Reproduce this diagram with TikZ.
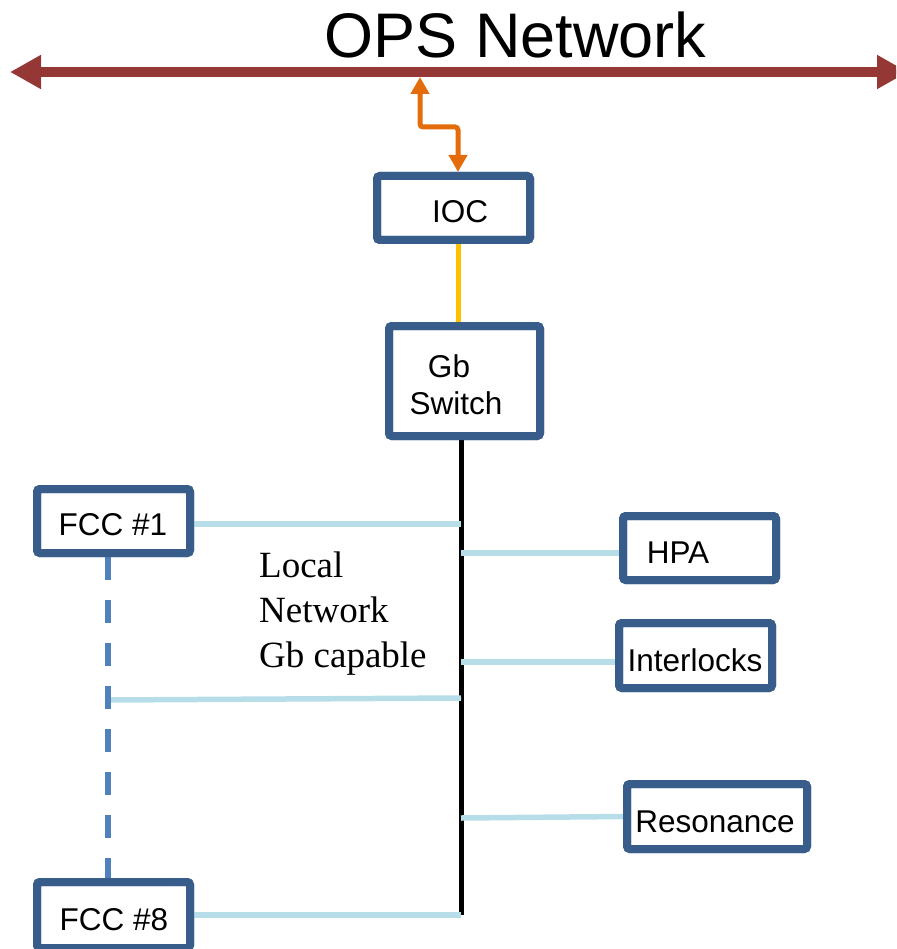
\documentclass[tikz,border=0pt]{standalone}
\usepackage{fontspec}
\setmainfont{Liberation Serif}
\setsansfont{Liberation Sans}
\usetikzlibrary{arrows.meta}

\definecolor{opsred}{HTML}{953735}
\definecolor{linkorange}{HTML}{E46C0A}
\definecolor{uplinkyellow}{HTML}{FFC000}
\definecolor{boxblue}{HTML}{385D8A}
\definecolor{lanblue}{HTML}{B7DDE8}
\definecolor{chainblue}{HTML}{4F81BD}

\begin{document}
\begin{tikzpicture}[x=1pt,y=-1pt,
  unit/.style={draw=boxblue, line width=8pt, rounded corners=3pt, fill=white,
               inner sep=0pt},
  tag/.style={font=\sffamily\fontsize{31.5}{37}\selectfont, inner sep=0pt},
  lan/.style={draw=lanblue, line width=5.5pt},
  busline/.style={draw=black, line width=5pt},
  opsbus/.style={draw=opsred, line width=10pt,
                 >={Triangle[length=31pt,width=32pt]}, <->},
  opslink/.style={draw=linkorange, line width=5pt, rounded corners=3pt,
                  >={Triangle[length=17pt,width=18pt]}, <->},
  uplink/.style={draw=uplinkyellow, line width=5pt},
  chain/.style={draw=chainblue, line width=6pt, dash pattern=on 23pt off 20pt}
]
\useasboundingbox (0,0) rectangle (896,949);
\clip (0,0) rectangle (896,949);

% title and backbone
\node[anchor=base, inner sep=0pt, font=\sffamily\fontsize{63}{70}\selectfont]
  (title) at (515.5,58) {OPS Network};
\coordinate (opsL) at (10,72);
\coordinate (opsR) at (908,72);
\draw[opsbus] (opsL) -- (opsR);

% boxes (outlines only; labels placed separately)
\node[unit, minimum width=153pt, minimum height=64pt]  (ioc)  at (453.5,208) {};
\node[unit, minimum width=151pt, minimum height=110pt] (gbsw) at (464.5,381) {};
\coordinate (opstap) at (420,77);
\coordinate (bustop) at ([xshift=-3.5pt]gbsw.south);
\coordinate (busend) at (461,914.5);

% local network lines
\draw[busline] (bustop) -- (busend);

\node[unit, minimum width=153pt, minimum height=64pt] (fcc1) at (113.5,521) {};
\node[unit, minimum width=153pt, minimum height=66pt] (fcc8) at (113.5,915) {};
\node[unit, minimum width=153pt, minimum height=64pt] (hpa)  at (699.5,548) {};
\node[unit, minimum width=153pt, minimum height=65pt] (ilk)  at (695.5,655.5) {};
\node[unit, minimum width=180pt, minimum height=65pt] (res)  at (717,816.5) {};

\coordinate (fcc1port) at ([yshift=-3pt]fcc1.east);
\coordinate (hpaport)  at ([yshift=-5pt]hpa.west);
\coordinate (ilkport)  at ([yshift=-6.5pt]ilk.west);
\coordinate (tap)      at (108,700);

\draw[lan] (fcc1port) -- (fcc1port -| bustop);
\draw[lan] (hpaport -| bustop) -- (hpaport);
\draw[lan] (ilkport -| bustop) -- (ilkport);
\draw[lan] (tap) -- ([yshift=2pt]tap -| bustop);
\draw[lan] ([yshift=-1.5pt]res.west -| bustop) -- (res.west);
\draw[lan] (fcc8.east) -- (fcc8.east -| bustop);
\draw[chain] ([xshift=-5.5pt]fcc1.south) -- ([xshift=-5.5pt]fcc8.north);

% uplinks
\draw[opslink] (opstap) |- ([xshift=4.5pt,yshift=45pt]ioc.north)
               -- ([xshift=4.5pt]ioc.north);
\draw[uplink] ([xshift=4.5pt]ioc.south) -- ([xshift=4.5pt]ioc.south |- gbsw.north);

% redraw box outlines over the line ends
\foreach \b in {ioc,gbsw,fcc1,fcc8,hpa,ilk,res}{
  \draw[boxblue, line width=8pt, rounded corners=3pt]
    ([shift={(4pt,4pt)}]\b.south west) rectangle ([shift={(-4pt,-4pt)}]\b.north east);
}

% labels
\node[tag, anchor=base] (ioctext)  at (460,223) {IOC};
\node[tag, align=center] (gbswtext) at (456,385) {Gb\kern14pt\\Switch};
\node[tag, anchor=base] (fcc1text) at (113,535) {FCC \#1};
\node[tag, anchor=base] (fcc8text) at (114,930) {FCC \#8};
\node[tag, anchor=base] (hpatext)  at (678,563) {HPA};
\node[tag, anchor=base] (ilktext)  at (695,671) {Interlocks};
\node[tag, anchor=base] (restext)  at (715,832) {Resonance};

\node[anchor=north west, align=left, inner sep=0pt,
      font=\rmfamily\fontsize{37}{45}\selectfont]
  (lannote) at (259,552) {Local\\Network\\Gb capable};
\end{tikzpicture}
\end{document}
